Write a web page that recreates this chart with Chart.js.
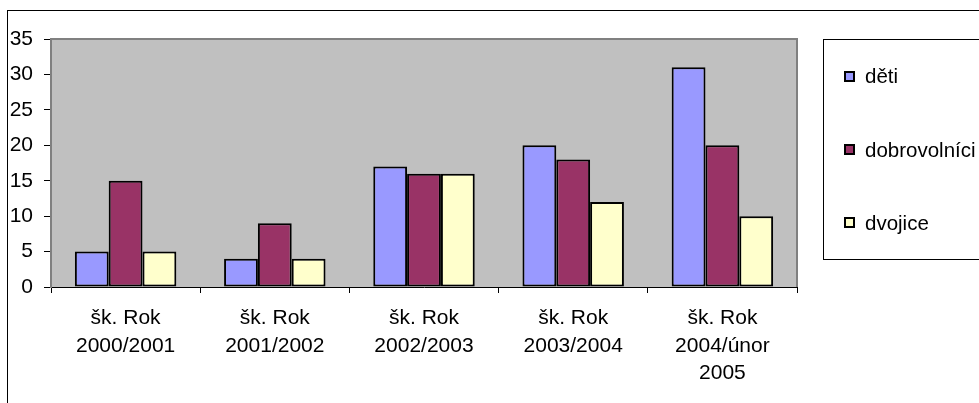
<!DOCTYPE html>
<html>
<head>
<meta charset="utf-8">
<script src="https://cdn.jsdelivr.net/npm/chart.js@4/dist/chart.umd.min.js"></script>
<style>
html,body{margin:0;padding:0;background:#fff;}
#wrap{width:979px;height:403px;position:relative;}
</style>
</head>
<body>
<div id="wrap"><canvas id="c" width="979" height="403"></canvas></div>
<script>
const categories = [
  ["šk. Rok", "2000/2001"],
  ["šk. Rok", "2001/2002"],
  ["šk. Rok", "2002/2003"],
  ["šk. Rok", "2003/2004"],
  ["šk. Rok", "2004/únor", "2005"]
];
const seriesNames = ["děti", "dobrovolníci", "dvojice"];
const deti = [5, 4, 17, 20, 31];
const dobrovolnici = [15, 9, 16, 18, 20];
const dvojice = [5, 4, 16, 12, 10];
const seriesColors = ["#9999FF", "#993366", "#FFFFCC"];
const yTicks = [0, 5, 10, 15, 20, 25, 30, 35];

const FONT = "'Liberation Sans', Arial, sans-serif";

const decor = {
  id: 'decor',
  beforeDraw(chart) {
    const {ctx, chartArea: a} = chart;
    ctx.save();
    ctx.fillStyle = '#fff';
    ctx.fillRect(0, 0, chart.width, chart.height);
    ctx.fillStyle = '#C0C0C0';
    ctx.fillRect(a.left, a.top, a.right - a.left, a.bottom - a.top);
    ctx.strokeStyle = '#808080';
    ctx.lineWidth = 2;
    ctx.beginPath();
    ctx.moveTo(a.left, a.top);
    ctx.lineTo(a.right, a.top);
    ctx.lineTo(a.right, a.bottom);
    ctx.stroke();
    ctx.restore();
  },
  afterDraw(chart) {
    const ctx = chart.ctx;
    ctx.save();
    // outer chart border
    ctx.strokeStyle = '#000';
    ctx.lineWidth = 1;
    ctx.strokeRect(7.5, 10.5, 1200, 800);
    // legend box
    ctx.strokeRect(823.5, 39.5, 400, 220);
    const ys = [76.5, 150, 223];
    ctx.font = '20.5px ' + FONT;
    ctx.textBaseline = 'middle';
    ctx.textAlign = 'left';
    chart.data.datasets.forEach((ds, i) => {
      const y = ys[i];
      ctx.fillStyle = ds.backgroundColor;
      ctx.fillRect(845, Math.round(y - 5), 9, 9);
      ctx.strokeStyle = '#000';
      ctx.lineWidth = 2;
      ctx.strokeRect(845, Math.round(y - 5), 9, 9);
      ctx.fillStyle = '#000';
      ctx.fillText(ds.label, 865, y + 1);
    });
    ctx.restore();
  }
};

new Chart(document.getElementById('c'), {
  type: 'bar',
  data: {
    labels: categories,
    datasets: [
      {label: seriesNames[0], data: deti, backgroundColor: seriesColors[0]},
      {label: seriesNames[1], data: dobrovolnici, backgroundColor: seriesColors[1]},
      {label: seriesNames[2], data: dvojice, backgroundColor: seriesColors[2]}
    ].map(d => Object.assign(d, {borderColor: '#000', borderWidth: 2, borderSkipped: false}))
  },
  options: {
    responsive: false,
    animation: false,
    devicePixelRatio: 1,
    layout: {padding: {top: 39, right: 182, left: 0, bottom: 0}},
    datasets: {bar: {categoryPercentage: 0.68, barPercentage: 1}},
    plugins: {legend: {display: false}, tooltip: {enabled: false}},
    scales: {
      x: {
        afterFit(s) { s.height = 116; },
        grid: {offset: true, drawOnChartArea: false, drawTicks: true, tickLength: 6, tickColor: '#000'},
        border: {display: true, color: '#000', width: 1},
        ticks: {color: '#000', padding: 12, maxRotation: 0, autoSkip: false,
                font: {family: FONT, size: 21, lineHeight: 1.3}}
      },
      y: {
        min: 0, max: 35,
        afterFit(s) { s.width = 51; },
        afterBuildTicks(s) { s.ticks = yTicks.map(v => ({value: v})); },
        grid: {drawOnChartArea: false, drawTicks: true, tickLength: 7, tickColor: '#000'},
        border: {display: true, color: '#808080', width: 2},
        ticks: {color: '#000', padding: 11, font: {family: FONT, size: 21}}
      }
    }
  },
  plugins: [decor]
});
</script>
</body>
</html>
